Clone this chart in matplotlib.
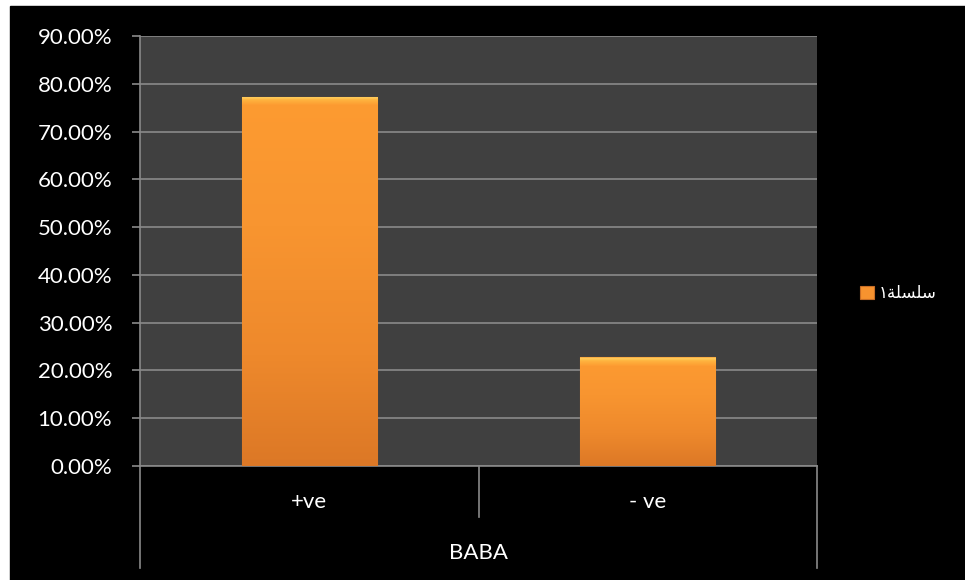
"""Bar chart of +ve / -ve share for BABA, dark office-style theme."""
import matplotlib
matplotlib.use("Agg")
import matplotlib.pyplot as plt
import numpy as np
from matplotlib.patches import Rectangle
from matplotlib.ticker import PercentFormatter
from matplotlib.colors import LinearSegmentedColormap
import matplotlib.transforms as mtransforms

plt.rcParams["font.family"] = ["Lato", "DejaVu Sans"]

categories = ["+ve", "- ve"]
group_label = "BABA"
values = [0.7727, 0.2273]
# legend label "سلسلة١" written in visual order with presentation forms
series_name = "\u0661\uFE94\uFEE0\uFEB4\uFEE0\uFEB3"

W, H = 965, 580
FS = 16
fig = plt.figure(figsize=(W / 100, H / 100), dpi=100, facecolor="white")
fig.patches.append(Rectangle((10 / W, 0), 1 - 10 / W, 1 - 6 / H,
                             transform=fig.transFigure, color="black", zorder=-5))

ax = fig.add_axes([140 / W, 1 - 466 / H, (817 - 140) / W, (466 - 36) / H])
ax.set_facecolor("#404040")

x = np.arange(len(categories))
bars = ax.bar(x, values, width=0.4, color="#f7932f", edgecolor="#c86e26",
              linewidth=0.8, zorder=3, label=series_name)

# vertical shading on each bar plus a soft bevel at the top
body = LinearSegmentedColormap.from_list(
    "bar", [(0, "#dc7826"), (0.3, "#ee892c"), (0.65, "#f89530"), (1, "#fd9b31")])
bevel = LinearSegmentedColormap.from_list(
    "bevel", [(0, "#fd9b31"), (0.6, "#ffb540"), (0.85, "#ffd060"), (1, "#f59a35")])
grad = np.linspace(0, 1, 256).reshape(-1, 1)
top_h = 0.018
for b in bars:
    x0, y0, w, h = b.get_x(), b.get_y(), b.get_width(), b.get_height()
    im = ax.imshow(grad, extent=(x0, x0 + w, y0, y0 + h), origin="lower",
                   cmap=body, aspect="auto", zorder=3.5)
    im.set_clip_path(b)
    im2 = ax.imshow(grad, extent=(x0, x0 + w, y0 + h - top_h, y0 + h),
                    origin="lower", cmap=bevel, aspect="auto", zorder=3.6)
    im2.set_clip_path(b)

ax.set_xlim(-0.5, len(categories) - 0.5)
ax.set_ylim(0, 0.9)
ax.set_yticks(np.arange(0, 0.91, 0.1))
ax.yaxis.set_major_formatter(PercentFormatter(xmax=1, decimals=2))
ax.grid(axis="y", color="#8a8a8a", lw=1.2, zorder=1)
ax.set_axisbelow(True)
ax.tick_params(axis="y", colors="#8a8a8a", length=6, width=1.2,
               labelcolor="white", labelsize=FS, pad=14)
ax.set_xticks([])
for side in ["top", "right"]:
    ax.spines[side].set_visible(False)
for side in ["left", "bottom"]:
    ax.spines[side].set_color("#8a8a8a")
    ax.spines[side].set_linewidth(1.2)

# multi-level category axis
trans = mtransforms.blended_transform_factory(ax.transData, ax.transAxes)
lo, hi = -0.5, len(categories) - 0.5
for xs, ybot in [(lo, -0.237), (hi, -0.237), (0.5, -0.119)]:
    ax.plot([xs, xs], [0, ybot], color="#8a8a8a", lw=1.2,
            transform=trans, clip_on=False)
for xi, lab in zip(x, categories):
    ax.text(xi, -0.084, lab, transform=trans, ha="center", va="center",
            color="white", fontsize=FS)
ax.text((lo + hi) / 2, -0.202, group_label, transform=trans, ha="center",
        va="center", color="white", fontsize=FS)

leg = fig.legend(handles=[bars[0]], labels=[series_name], loc="center left",
                 bbox_to_anchor=(845 / W, 1 - 293 / H), frameon=False,
                 handlelength=0.85, handleheight=0.85, handletextpad=0.3,
                 prop={"family": ["DejaVu Sans"], "size": 12})
for t in leg.get_texts():
    t.set_color("white")

fig.savefig("out.png", dpi=100, facecolor=fig.get_facecolor())
